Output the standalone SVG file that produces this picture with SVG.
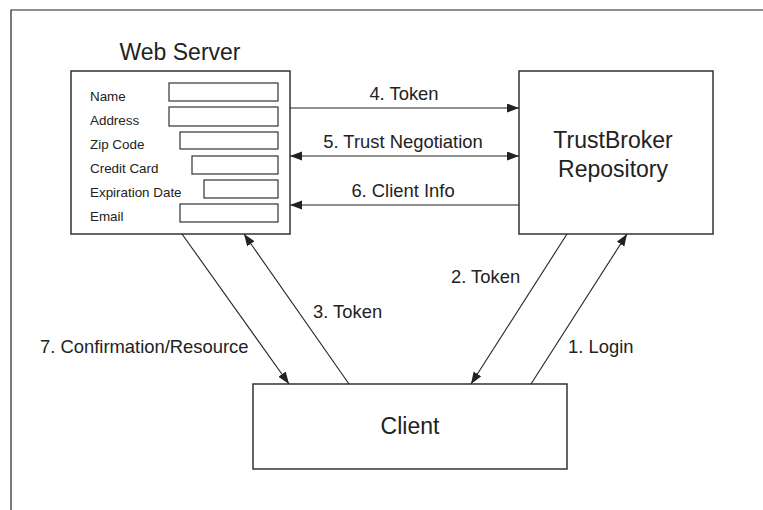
<svg xmlns="http://www.w3.org/2000/svg" width="763" height="510" viewBox="0 0 763 510">
<style>
text{font-family:"Liberation Sans",Arial,sans-serif;fill:#222}
.title{font-size:23px;text-anchor:middle}
.lbl{font-size:18.4px}
.mid{text-anchor:middle}
.fld{font-size:13.4px}
.box{fill:#fff;stroke:#333;stroke-width:1.5}
.inp{fill:#fff;stroke:#333;stroke-width:1.2}
.edge{stroke:#222;stroke-width:1.1;fill:none}
.frame{stroke:#222;stroke-width:1.2;fill:none}
</style>
<defs>
<marker id="ah" markerUnits="userSpaceOnUse" markerWidth="13" markerHeight="10" refX="12" refY="4.5" orient="auto-start-reverse">
<path d="M0,0 L12,4.5 L0,9 z" fill="#222"/>
</marker>
</defs>
<rect width="763" height="510" fill="#fff"/>
<path class="frame" d="M11,510 L11,10 L763,10"/>
<g id="webserver">
<text class="title" x="180" y="60">Web Server</text>
<rect class="box" x="71" y="71" width="219" height="163"/>
<text class="fld" x="90" y="101">Name</text>
<rect class="inp" x="169" y="83" width="109" height="18"/>
<text class="fld" x="90" y="125">Address</text>
<rect class="inp" x="169" y="107" width="109" height="19"/>
<text class="fld" x="90" y="149">Zip Code</text>
<rect class="inp" x="180" y="132" width="98" height="17"/>
<text class="fld" x="90" y="173">Credit Card</text>
<rect class="inp" x="192" y="156" width="86" height="18"/>
<text class="fld" x="90" y="197">Expiration Date</text>
<rect class="inp" x="204" y="180" width="74" height="18"/>
<text class="fld" x="90" y="221">Email</text>
<rect class="inp" x="180" y="204" width="98" height="18"/>
</g>
<g id="trustbroker">
<rect class="box" x="519" y="71" width="194" height="163"/>
<text class="title" x="613" y="148">TrustBroker</text>
<text class="title" x="613" y="177">Repository</text>
</g>
<g id="client">
<rect class="box" x="253" y="384" width="314" height="85"/>
<text class="title" x="410" y="434">Client</text>
</g>
<g id="connectors">
<line class="edge" x1="290" y1="108" x2="519" y2="108" marker-end="url(#ah)"/>
<text class="lbl mid" x="404" y="100">4. Token</text>
<line class="edge" x1="290" y1="156" x2="519" y2="156" marker-start="url(#ah)" marker-end="url(#ah)"/>
<text class="lbl mid" x="403" y="148">5. Trust Negotiation</text>
<line class="edge" x1="519" y1="205" x2="290" y2="205" marker-end="url(#ah)"/>
<text class="lbl mid" x="403" y="197">6. Client Info</text>
<line class="edge" x1="182" y1="234" x2="289" y2="384" marker-end="url(#ah)"/>
<text class="lbl" x="40" y="353">7. Confirmation/Resource</text>
<line class="edge" x1="349" y1="384" x2="244" y2="234" marker-end="url(#ah)"/>
<text class="lbl" x="313" y="318">3. Token</text>
<line class="edge" x1="567" y1="234" x2="471" y2="384" marker-end="url(#ah)"/>
<text class="lbl" x="451" y="283">2. Token</text>
<line class="edge" x1="531" y1="384" x2="627" y2="234" marker-end="url(#ah)"/>
<text class="lbl" x="568" y="353">1. Login</text>
</g>
</svg>
